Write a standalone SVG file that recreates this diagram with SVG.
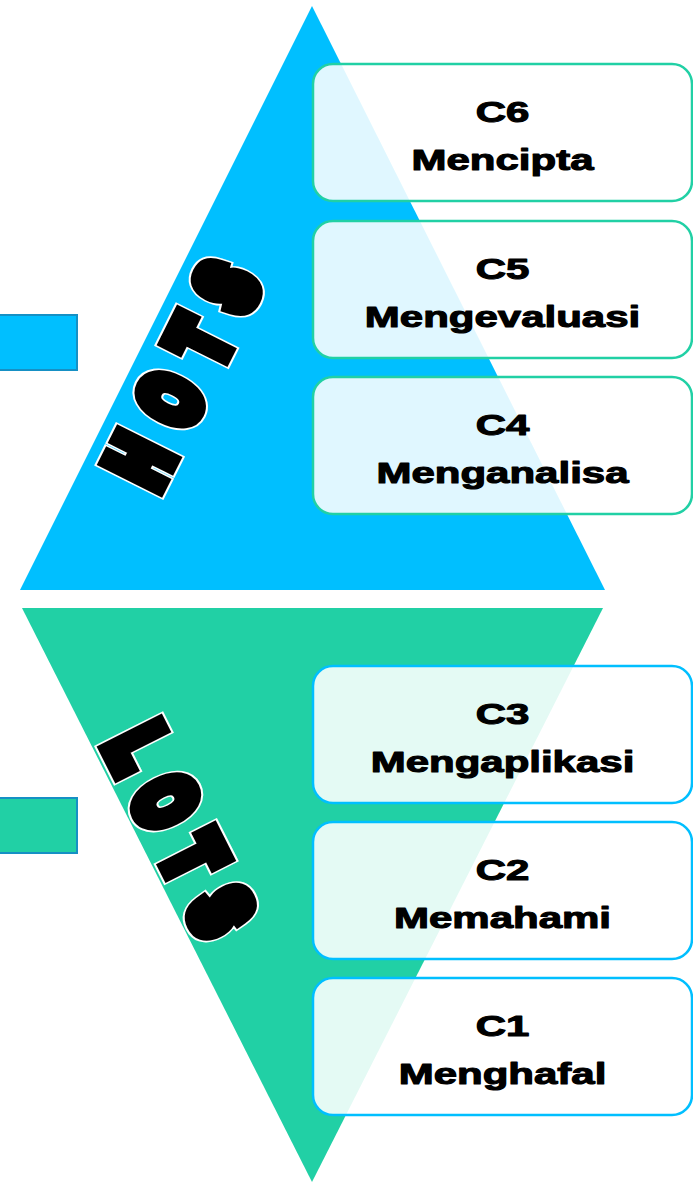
<svg xmlns="http://www.w3.org/2000/svg" xmlns:xlink="http://www.w3.org/1999/xlink" width="693" height="1182" viewBox="0 0 693 1182">
  <style>
    .lvl rect { fill: #ffffff; fill-opacity: 0.88; stroke-width: 2.5; }
    .hots rect { stroke: #21D0A5; }
    .lots rect { stroke: #00BFFF; }
    .lvl text { font-family: "Liberation Sans", Arial, sans-serif; font-weight: bold; font-size: 30px; fill: #000000; stroke: #000000; stroke-width: 1.1; stroke-linejoin: round; text-anchor: middle; }
    .glyph { font-family: "Liberation Sans", Arial, sans-serif; font-weight: bold; font-size: 79px; text-anchor: middle; stroke-linejoin: miter; stroke-miterlimit: 10; }
    .halo { fill: #000000; stroke: #ffffff; stroke-width: 23; }
    .ink { fill: #000000; stroke: #000000; stroke-width: 18.8; }
  </style>
  <defs>
    <!-- heavy condensed letters: glyphs are squeezed by the parent scale and fattened by stroke -->
    <g id="hotsWord">
      <text class="glyph" x="32.9" y="-9.4">H</text>
      <text class="glyph" x="131.4" y="-9.4">O</text>
      <text class="glyph" x="224.3" y="-9.4">T</text>
      <text class="glyph" x="311.4" y="-9.4">S</text>
    </g>
    <g id="lotsWord">
      <text class="glyph" x="27.7" y="-9.4">L</text>
      <text class="glyph" x="114.3" y="-9.4">O</text>
      <text class="glyph" x="202.9" y="-9.4">T</text>
      <text class="glyph" x="290" y="-9.4">S</text>
    </g>
  </defs>

  <!-- upper band: HOTS -->
  <g id="hots-band">
    <polygon points="312,6 20,590 605,590" fill="#00BFFF"/>
    <rect x="-2" y="315" width="79" height="55" fill="#00BFFF" stroke="#1690C4" stroke-width="2"/>
    <g transform="translate(162,498) rotate(-63.43) scale(0.70,1)">
      <use xlink:href="#hotsWord" class="halo"/>
      <use xlink:href="#hotsWord" class="ink"/>
    </g>
  </g>

  <!-- lower band: LOTS -->
  <g id="lots-band">
    <polygon points="22,608 603,608 312,1182" fill="#21D0A5"/>
    <rect x="-2" y="798" width="79" height="55" fill="#21D0A5" stroke="#1690C4" stroke-width="2"/>
    <g transform="translate(96.7,746.7) rotate(63.2) scale(0.70,1)">
      <use xlink:href="#lotsWord" class="halo"/>
      <use xlink:href="#lotsWord" class="ink"/>
    </g>
  </g>

  <!-- cognitive levels -->
  <g id="c6" class="lvl hots">
    <rect x="313" y="64" width="379" height="137" rx="20"/>
    <g transform="translate(502.5,122) scale(1.40,1)"><text x="0" y="0">C6</text></g>
    <g transform="translate(502.5,170) scale(1.40,1)"><text x="0" y="0">Mencipta</text></g>
  </g>
  <g id="c5" class="lvl hots">
    <rect x="313" y="221" width="379" height="137" rx="20"/>
    <g transform="translate(502.5,279) scale(1.40,1)"><text x="0" y="0">C5</text></g>
    <g transform="translate(502.5,327) scale(1.40,1)"><text x="0" y="0">Mengevaluasi</text></g>
  </g>
  <g id="c4" class="lvl hots">
    <rect x="313" y="377" width="379" height="137" rx="20"/>
    <g transform="translate(502.5,435) scale(1.40,1)"><text x="0" y="0">C4</text></g>
    <g transform="translate(502.5,483) scale(1.40,1)"><text x="0" y="0">Menganalisa</text></g>
  </g>
  <g id="c3" class="lvl lots">
    <rect x="313" y="666" width="379" height="137" rx="20"/>
    <g transform="translate(502.5,724) scale(1.40,1)"><text x="0" y="0">C3</text></g>
    <g transform="translate(502.5,772) scale(1.40,1)"><text x="0" y="0">Mengaplikasi</text></g>
  </g>
  <g id="c2" class="lvl lots">
    <rect x="313" y="822" width="379" height="137" rx="20"/>
    <g transform="translate(502.5,880) scale(1.40,1)"><text x="0" y="0">C2</text></g>
    <g transform="translate(502.5,928) scale(1.40,1)"><text x="0" y="0">Memahami</text></g>
  </g>
  <g id="c1" class="lvl lots">
    <rect x="313" y="978" width="379" height="137" rx="20"/>
    <g transform="translate(502.5,1036) scale(1.40,1)"><text x="0" y="0">C1</text></g>
    <g transform="translate(502.5,1084) scale(1.40,1)"><text x="0" y="0">Menghafal</text></g>
  </g>
</svg>
